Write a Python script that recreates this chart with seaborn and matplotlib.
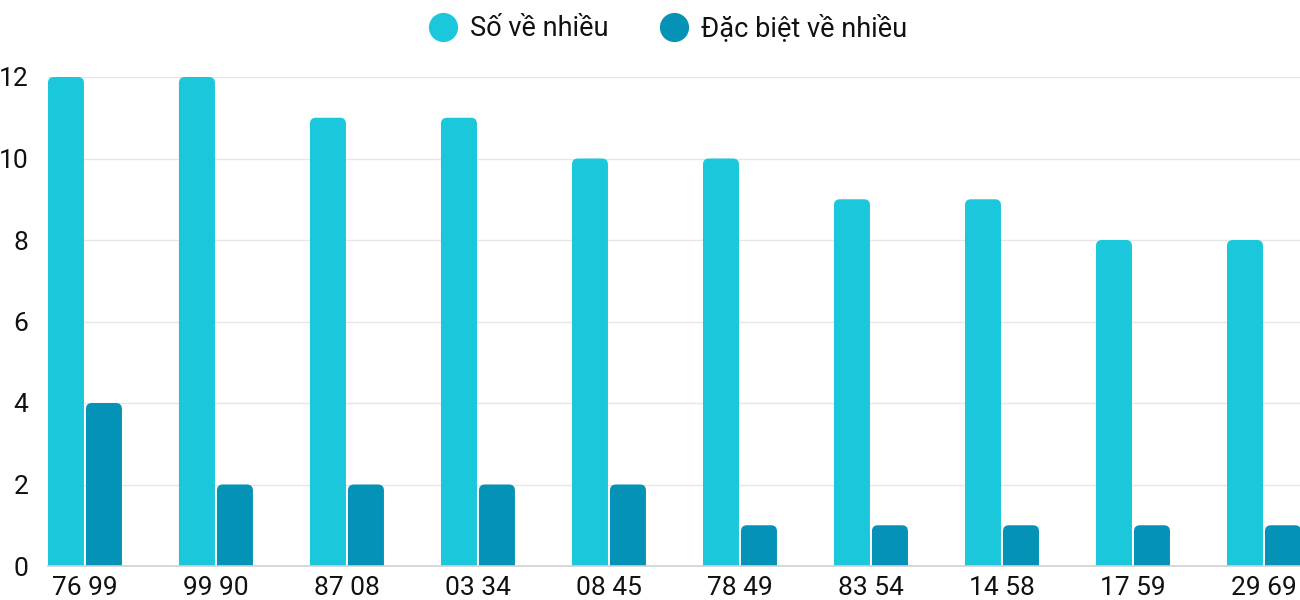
import pandas as pd
import seaborn as sns
import matplotlib.pyplot as plt
from matplotlib.patches import PathPatch, Rectangle
from matplotlib.path import Path
from matplotlib.lines import Line2D

pairs = ["76 99", "99 90", "87 08", "03 34", "08 45", "78 49", "83 54", "14 58", "17 59", "29 69"]
so_ve_nhieu = [12, 12, 11, 11, 10, 10, 9, 9, 8, 8]
dac_biet = [4, 2, 2, 2, 2, 1, 1, 1, 1, 1]
series = ["Số về nhiều", "Đặc biệt về nhiều"]
colors = ["#1BC8DB", "#0493B6"]

df = pd.DataFrame({
    "pair": pairs * 2,
    "count": so_ve_nhieu + dac_biet,
    "series": [series[0]] * len(pairs) + [series[1]] * len(pairs),
})

sns.set_style("white")
plt.rcParams["font.family"] = ["Roboto", "DejaVu Sans"]

fig = plt.figure(figsize=(13, 6), dpi=100)
ax = fig.add_axes([48 / 1300, 34 / 600, 1252 / 1300, 489 / 600])

sns.barplot(data=df, x="pair", y="count", hue="series", palette=colors,
            saturation=1, width=0.58, gap=0.052, legend=False, ax=ax)

ax.set_xlim(-0.282, 9.275)
ax.set_ylim(0, 12)


def rounded_top(x, w, h, rx, ry):
    # rectangle with rounded top corners, bottom at 0
    verts = [(x, 0), (x, h - ry), (x, h), (x + rx, h),
             (x + w - rx, h), (x + w, h), (x + w, h - ry),
             (x + w, 0), (x, 0)]
    codes = [Path.MOVETO, Path.LINETO, Path.CURVE3, Path.CURVE3,
             Path.LINETO, Path.CURVE3, Path.CURVE3,
             Path.LINETO, Path.CLOSEPOLY]
    return Path(verts, codes)


# 1 unit on x is ~131 px, 1 unit on y is ~40.75 px; corner radius ~6 px
rx, ry = 6 / 131, 6 / 40.75
bars = [p for p in ax.patches if isinstance(p, Rectangle)]
for p in bars:
    x, w, h = p.get_x(), p.get_width(), p.get_height()
    fc = p.get_facecolor()
    p.remove()
    if h <= 0:
        continue
    ax.add_patch(PathPatch(rounded_top(x, w, h, rx, ry), fc=fc, ec="none",
                           lw=0, zorder=2))

ax.set_yticks(range(0, 13, 2))
ax.grid(axis="y", color="#e6e6e6", lw=1)
ax.set_axisbelow(True)
for s in ["top", "right", "left"]:
    ax.spines[s].set_visible(False)
ax.spines["bottom"].set_color("#d0d0d0")
ax.spines["bottom"].set_linewidth(1.2)
ax.spines["bottom"].set_zorder(3)
ax.tick_params(axis="y", length=0, pad=14, labelsize=19, labelcolor="#111111")
ax.tick_params(axis="x", length=0, pad=7, labelsize=19, labelcolor="#111111")
ax.set_xlabel("")
ax.set_ylabel("")

handles = [Line2D([], [], ls="none", marker="o", markersize=20, color=c) for c in colors]
fig.legend(handles, series, loc="center", bbox_to_anchor=(0.5088, 0.953), ncol=2,
           frameon=False, fontsize=19.5, handletextpad=0.0, columnspacing=1.4,
           labelcolor="#111111")

plt.savefig("out.png", dpi=100)
